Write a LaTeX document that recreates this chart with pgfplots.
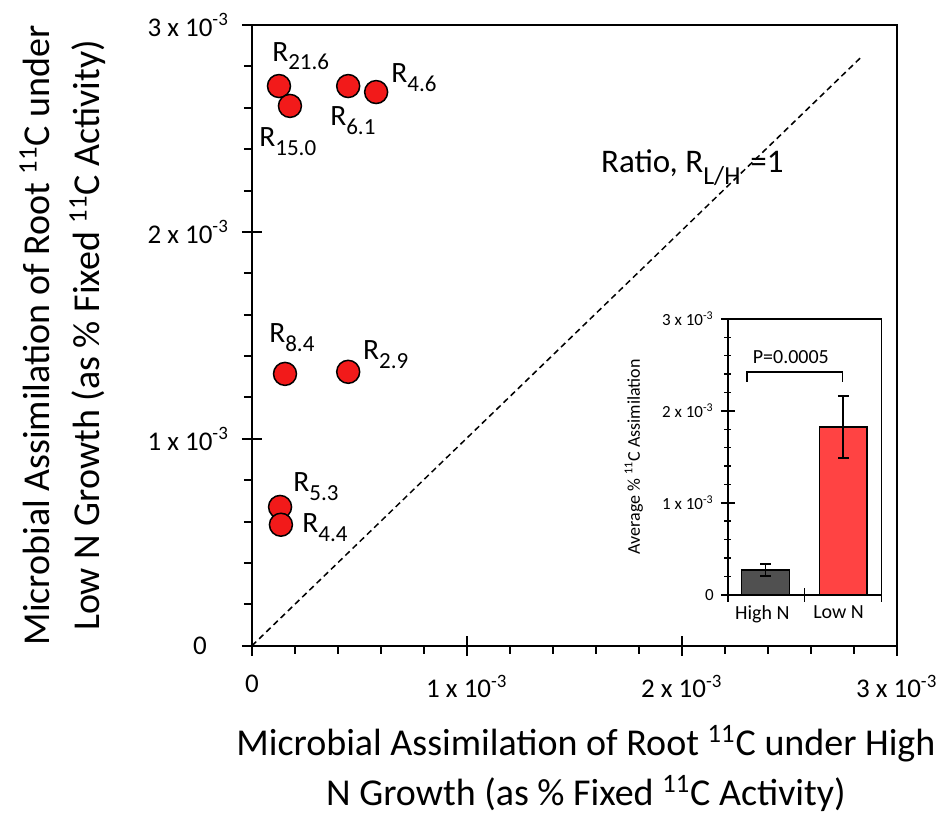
\documentclass[border=0pt]{standalone}
\usepackage{fontspec}
\setmainfont{Carlito}
\usepackage{pgfplots}
\pgfplotsset{compat=1.18}

\definecolor{dotRed}{HTML}{F21A1A}
\definecolor{barRed}{HTML}{FF4343}
\definecolor{barGrey}{HTML}{505050}

% R with a large, dropped subscript
\newcommand\rlab[1]{R\raisebox{-4.5pt}{\fontsize{11.5}{12}\selectfont #1}}

\begin{document}
\begin{tikzpicture}
  % main scatter
  \begin{axis}[
    at={(0,0)}, anchor=south west,
    scale only axis,
    width=322.5pt, height=310.5pt,
    xmin=0, xmax=3e-3, ymin=0, ymax=3e-3,
    axis lines=box,
    axis line style={line width=1pt},
    scaled ticks=false,
    xtick={0,0.2e-3,0.4e-3,0.6e-3,0.8e-3,1e-3,1.2e-3,1.4e-3,1.6e-3,1.8e-3,2e-3,2.2e-3,2.4e-3,2.6e-3,2.8e-3,3e-3},
    ytick={0,0.2e-3,0.4e-3,0.6e-3,0.8e-3,1e-3,1.2e-3,1.4e-3,1.6e-3,1.8e-3,2e-3,2.2e-3,2.4e-3,2.6e-3,2.8e-3,3e-3},
    xticklabel=\empty, yticklabel=\empty,
    xtick pos=left, ytick pos=left,
    tick align=outside, major tick length=4pt,
    every tick/.append style={black, line width=1pt},
    extra x ticks={0,1e-3,2e-3,3e-3},
    extra x tick labels={0,1 x 10\textsuperscript{-3},2 x 10\textsuperscript{-3},3 x 10\textsuperscript{-3}},
    extra x tick style={tick align=center, major tick length=10pt,
      xticklabel style={yshift=-6pt}},
    extra y ticks={0,1e-3,2e-3,3e-3},
    extra y tick labels={0\hbox to 11pt{},1 x 10\textsuperscript{-3},2 x 10\textsuperscript{-3},3 x 10\textsuperscript{-3}},
    extra y tick style={tick align=center, major tick length=10pt,
      yticklabel style={xshift=-3pt}},
    tick label style={font=\fontsize{13.5}{15}\selectfont},
    xlabel={Microbial Assimilation of Root \textsuperscript{11}C under High\\N Growth (as \% Fixed \textsuperscript{11}C Activity)},
    ylabel={Microbial Assimilation of Root \textsuperscript{11}C under\\Low N Growth (as \% Fixed \textsuperscript{11}C Activity)},
    xlabel style={align=center, font=\fontsize{19}{25}\selectfont,
      at={(axis description cs:0.518,-0.198)}, anchor=center},
    ylabel style={align=center, font=\fontsize{19}{25}\selectfont,
      at={(axis description cs:-0.294,0.5)}, anchor=center},
    clip=false,
  ]
    \addplot[black, line width=0.75pt, dash pattern=on 3pt off 2pt]
      coordinates {(0,0) (2.84e-3,2.85e-3)};
    \addplot[only marks, mark=*, mark size=5.75pt,
      mark options={fill=dotRed, draw=black, line width=0.75pt}]
      coordinates {(0.126e-3,2.705e-3) (0.177e-3,2.609e-3) (0.448e-3,2.705e-3) (0.578e-3,2.676e-3)
                   (0.154e-3,1.314e-3) (0.448e-3,1.324e-3) (0.131e-3,0.671e-3) (0.135e-3,0.585e-3)};

    \begin{scope}[every node/.style={font=\fontsize{14.75}{16}\selectfont, anchor=base west, inner sep=0pt}]
      \node at (axis cs:0.093e-3,2.826e-3) {\rlab{21.6}};
      \node at (axis cs:0.033e-3,2.411e-3) {\rlab{15.0}};
      \node at (axis cs:0.363e-3,2.512e-3) {\rlab{6.1}};
      \node at (axis cs:0.647e-3,2.720e-3) {\rlab{4.6}};
      \node at (axis cs:0.079e-3,1.464e-3) {\rlab{8.4}};
      \node at (axis cs:0.516e-3,1.382e-3) {\rlab{2.9}};
      \node at (axis cs:0.191e-3,0.744e-3) {\rlab{5.3}};
      \node at (axis cs:0.233e-3,0.546e-3) {\rlab{4.4}};
    \end{scope}
    \node[font=\fontsize{16.5}{18}\selectfont, anchor=base west, inner sep=0pt]
      at (axis cs:1.623e-3,2.285e-3)
      {Ratio, R\raisebox{-6pt}{\fontsize{13}{14}\selectfont L/H}\hspace{5pt}=1};
  \end{axis}

  % inset bar chart
  \begin{axis}[
    at={(238pt,25.5pt)}, anchor=south west,
    scale only axis,
    width=77pt, height=138pt,
    xmin=0, xmax=2, ymin=0, ymax=3e-3,
    axis line style={line width=0.75pt},
    scaled ticks=false,
    xtick={0,1,2}, xticklabel=\empty,
    ytick={0,1e-3,2e-3,3e-3},
    yticklabels={0,1 x 10\textsuperscript{-3},2 x 10\textsuperscript{-3},3 x 10\textsuperscript{-3}},
    minor ytick={0.2e-3,0.4e-3,0.6e-3,0.8e-3,1.2e-3,1.4e-3,1.6e-3,1.8e-3,2.2e-3,2.4e-3,2.6e-3,2.8e-3},
    xtick pos=left, ytick pos=left,
    tick align=center, major tick length=7pt, minor tick length=3.5pt,
    every tick/.append style={black, line width=0.75pt},
    extra x ticks={0.45,1.44},
    extra x tick labels={High N,Low N},
    extra x tick style={major tick length=0pt,
      xticklabel style={font=\fontsize{10}{12}\selectfont, yshift=-2pt}},
    tick label style={font=\fontsize{8.5}{10}\selectfont},
    ylabel={Average \% \textsuperscript{11}C Assimilation},
    ylabel style={font=\fontsize{9}{11}\selectfont,
      at={(axis description cs:-0.61,0.5)}, anchor=center},
    clip=false,
  ]
    \addplot[ybar, bar width=23.9pt, bar shift=0pt, fill=barGrey, draw=black, line width=0.75pt,
      error bars/.cd, y dir=both, y explicit,
      error bar style={black, line width=0.75pt},
      error mark options={rotate=90, black, mark size=2.7pt, line width=0.75pt}]
      coordinates {(0.49,0.272e-3) +- (0,0.065e-3)};
    \addplot[ybar, bar width=23.9pt, bar shift=0pt, fill=barRed, draw=black, line width=0.75pt,
      error bars/.cd, y dir=both, y explicit,
      error bar style={black, line width=0.75pt},
      error mark options={rotate=90, black, mark size=2.7pt, line width=0.75pt}]
      coordinates {(1.5,1.826e-3) +- (0,0.337e-3)};
    \draw[line width=0.75pt] (axis cs:0.25,2.315e-3) -- (axis cs:0.25,2.424e-3)
      -- (axis cs:1.494,2.424e-3) -- (axis cs:1.494,2.315e-3);
    \node[font=\fontsize{10}{12}\selectfont] at (axis cs:0.82,2.587e-3) {P=0.0005};
  \end{axis}

  % page extent of the reference
  \path (-126pt,-81.5pt) rectangle (346pt,323pt);
\end{tikzpicture}
\end{document}
